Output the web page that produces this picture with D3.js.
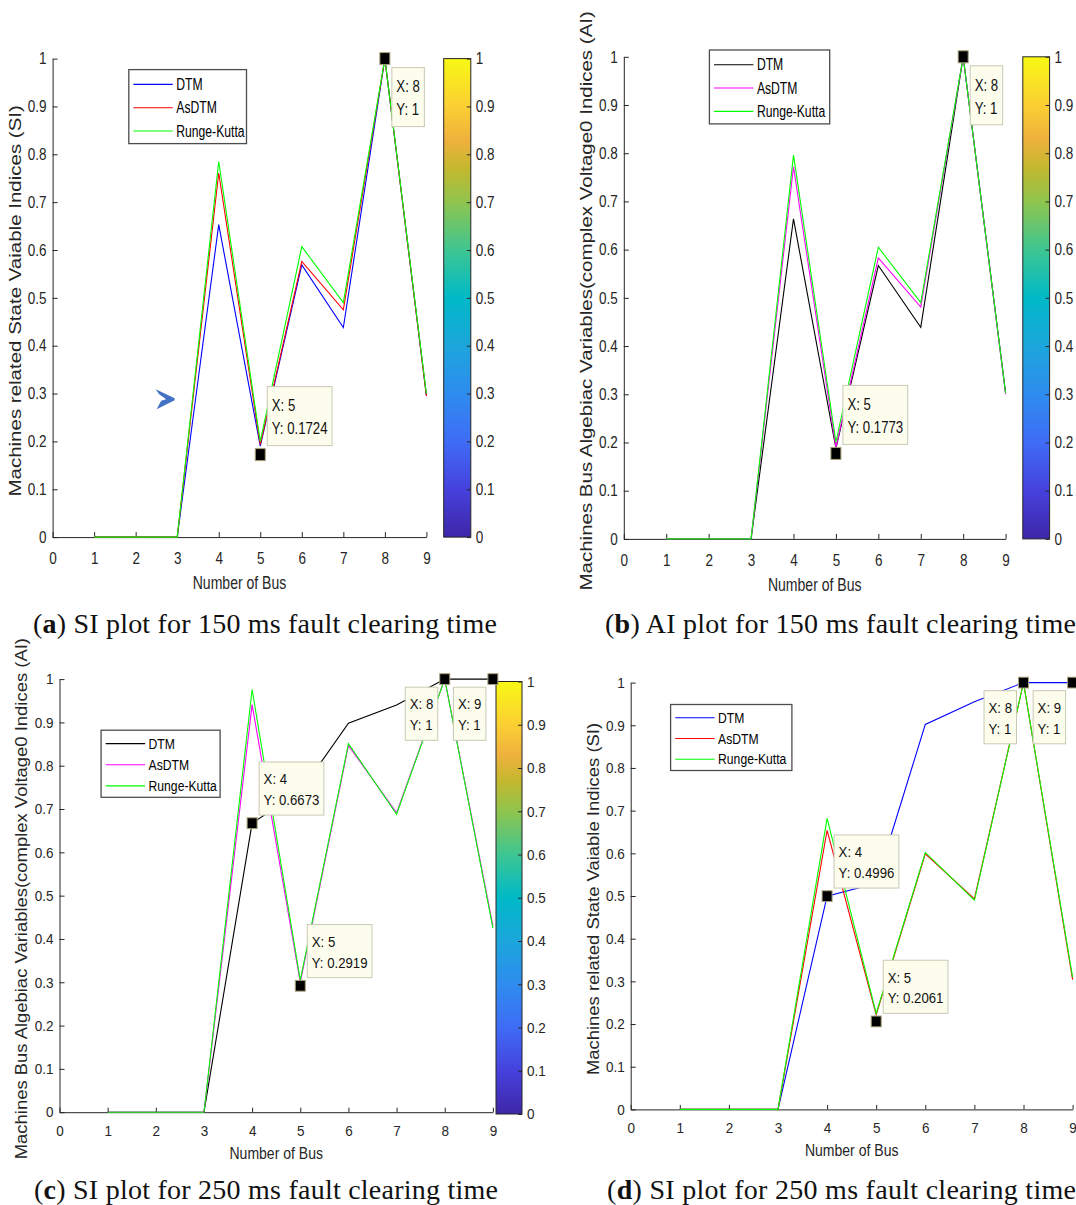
<!DOCTYPE html>
<html>
<head>
<meta charset="utf-8">
<script src="https://cdn.jsdelivr.net/npm/d3@7"></script>
<style>
  body { margin: 0; background: #fff; }
  svg text { font-family: "Liberation Sans", Arial, sans-serif; }
</style>
</head>
<body>
<div id="chart"></div>
<script>
// bus numbers and tick values
var buses = [1, 2, 3, 4, 5, 6, 7, 8, 9];
var xTicks = [0, 1, 2, 3, 4, 5, 6, 7, 8, 9];
var yTicks = [0, 0.1, 0.2, 0.3, 0.4, 0.5, 0.6, 0.7, 0.8, 0.9, 1];
var seriesNames = ["DTM", "AsDTM", "Runge-Kutta"];

// (a) SI, 150 ms
var dtmA   = [0, 0, 0, 0.653, 0.19,  0.569, 0.438, 1, 0.296];
var asdtmA = [0, 0, 0, 0.761, 0.193, 0.576, 0.475, 1, 0.295];
var rkA    = [0, 0, 0, 0.785, 0.2,   0.607, 0.49,  1, 0.3];
var tipsA  = [[8, 1], [5, 0.1724]];
var arrowA = [2.71, 0.288];

// (b) AI, 150 ms
var dtmB   = [0, 0, 0, 0.664, 0.188, 0.567, 0.439, 1, 0.303];
var asdtmB = [0, 0, 0, 0.772, 0.19,  0.583, 0.481, 1, 0.3];
var rkB    = [0, 0, 0, 0.796, 0.201, 0.605, 0.49,  1, 0.302];
var tipsB  = [[8, 1], [5, 0.1773]];

// (c) AI, 250 ms
var dtmC   = [0, 0, 0, 0.6673, 0.74, 0.898, 0.94,  1, 1];
var asdtmC = [0, 0, 0, 0.941,  0.3,  0.847, 0.691, 1, 0.43];
var rkC    = [0, 0, 0, 0.976,  0.305, 0.851, 0.688, 1, 0.425];
var tipsC  = [[4, 0.6673], [5, 0.2919], [8, 1], [9, 1]];

// (d) SI, 250 ms
var dtmD   = [0, 0, 0, 0.4996, 0.53,  0.902, 0.955, 1, 1];
var asdtmD = [0, 0, 0, 0.654,  0.222, 0.599, 0.493, 1, 0.304];
var rkD    = [0, 0, 0, 0.682,  0.225, 0.602, 0.49,  1, 0.31];
var tipsD  = [[4, 0.4996], [5, 0.2061], [8, 1], [9, 1]];

var ylabelSI = "Machines related State Vaiable Indices (SI)";
var ylabelAI = "Machines Bus Algebiac Variables(complex Voltage0 Indices (AI)";
var xlabel = "Number of Bus";

var parulaStops = [[0, "#3e26a8"], [0.1, "#4641dd"], [0.2, "#3f6cf6"], [0.3, "#2e8cee"],
  [0.4, "#1ca6dc"], [0.5, "#00b9c7"], [0.6, "#3ec692"], [0.7, "#8fc44d"],
  [0.77, "#c4b82f"], [0.83, "#efb13c"], [0.9, "#fbcf33"], [1, "#f8f814"]];

var panels = [
  {left: 52.6, right: 426.4, top: 58.6, bottom: 537.1, s: 1,
   series: [dtmA, asdtmA, rkA], colors: ["#0000ff", "#ff0000", "#00ff00"],
   tips: tipsA, tipPlace: ["lr", "ur"], ylabel: ylabelSI, ylabelX: 15.6,
   legend: {x: 128.8, y: 69.6, w: 117.7, h: 74},
   colorbar: {x: 443.7, w: 27.1, top: 58.6, bottom: 537.1},
   letter: "a", caption: ") SI plot for 150 ms fault clearing time", capBox: [33, 497], capY: 632.7,
   arrow: arrowA},
  {left: 623.8, right: 1005.6, top: 56.8, bottom: 538.9, s: 1,
   series: [dtmB, asdtmB, rkB], colors: ["#000000", "#ff00ff", "#00ff00"],
   tips: tipsB, tipPlace: ["lr", "ur"], ylabel: ylabelAI, ylabelX: 586.4,
   legend: {x: 709.4, y: 50, w: 120.3, h: 73.9},
   colorbar: {x: 1022.8, w: 26.8, top: 56.8, bottom: 538.9},
   letter: "b", caption: ") AI plot for 150 ms fault clearing time", capBox: [605, 1076], capY: 632.7},
  {left: 59.5, right: 492.9, top: 679.1, bottom: 1112.2, s: 0.9,
   series: [dtmC, asdtmC, rkC], colors: ["#000000", "#ff00ff", "#00ff00"],
   tips: tipsC, tipPlace: ["ur", "ur", "ll", "ll"], ylabel: ylabelAI, ylabelX: 21.5,
   legend: {x: 101.1, y: 730.2, w: 119, h: 67.1},
   colorbar: {x: 496, w: 26, top: 681.5, bottom: 1114},
   letter: "c", caption: ") SI plot for 250 ms fault clearing time", capBox: [34, 498], capY: 1198.8},
  {left: 630.7, right: 1072.6, top: 682.6, bottom: 1109.4, s: 0.9,
   series: [dtmD, asdtmD, rkD], colors: ["#0000ff", "#ff0000", "#00ff00"],
   tips: tipsD, tipPlace: ["ur", "ur", "ll", "ll"], ylabel: ylabelSI, ylabelX: 593.3,
   legend: {x: 670.6, y: 704.5, w: 121.3, h: 66},
   letter: "d", caption: ") SI plot for 250 ms fault clearing time", capBox: [607, 1076], capY: 1198.8}
];

var ink = "#262626";

var svg = d3.select("#chart").append("svg")
    .attr("width", 1076)
    .attr("height", 1205);
svg.append("rect").attr("width", 1076).attr("height", 1205).attr("fill", "#fff");

var grad = svg.append("defs").append("linearGradient")
    .attr("id", "parula")
    .attr("x1", 0).attr("y1", 1).attr("x2", 0).attr("y2", 0);
parulaStops.forEach(function(st) {
  grad.append("stop").attr("offset", st[0]).attr("stop-color", st[1]);
});

// the figure is horizontally squeezed, so squeeze the text too
function squeeze(sel, k, origin, axis) {
  sel.style("transform-box", "fill-box")
     .style("transform-origin", origin)
     .style("transform", (axis || "scaleX") + "(" + k + ")");
}

function styleAxis(a, fs, k, origin) {
  a.attr("font-family", null).attr("font-size", null);
  a.select(".domain").attr("stroke", ink);
  a.selectAll(".tick line").attr("stroke", ink);
  var t = a.selectAll(".tick text").attr("fill", ink).style("font-size", fs + "px");
  squeeze(t, k, origin);
}

function drawPanel(p) {
  var s = p.s;
  var g = svg.append("g");
  var x = d3.scaleLinear().domain([0, 9]).range([p.left, p.right]);
  var y = d3.scaleLinear().domain([0, 1]).range([p.bottom, p.top]);
  var tickFs = 16.5 * s, tickK = 0.82 / s;

  // colorbar
  if (p.colorbar) {
    var cb = p.colorbar;
    var yc = d3.scaleLinear().domain([0, 1]).range([cb.bottom, cb.top]);
    g.append("rect")
      .attr("x", cb.x).attr("y", cb.top)
      .attr("width", cb.w).attr("height", cb.bottom - cb.top)
      .attr("fill", "url(#parula)")
      .attr("stroke", ink).attr("stroke-width", 1);
    var cax = g.append("g")
      .attr("transform", "translate(" + (cb.x + cb.w) + ",0)")
      .call(d3.axisRight(yc).tickValues(yTicks).tickFormat(d3.format("~g"))
        .tickSizeInner(-4).tickSizeOuter(0).tickPadding(5));
    styleAxis(cax, tickFs, tickK, "left center");
    cax.select(".domain").remove();
  }

  // axes (box off, ticks inside)
  var xa = g.append("g")
    .attr("transform", "translate(0," + p.bottom + ")")
    .call(d3.axisBottom(x).tickValues(xTicks).tickFormat(d3.format("d"))
      .tickSizeInner(-5 * s).tickSizeOuter(0).tickPadding(15 * s));
  styleAxis(xa, tickFs, tickK, "center");
  var ya = g.append("g")
    .attr("transform", "translate(" + p.left + ",0)")
    .call(d3.axisLeft(y).tickValues(yTicks).tickFormat(d3.format("~g"))
      .tickSizeInner(-5).tickSizeOuter(0).tickPadding(6));
  styleAxis(ya, tickFs, tickK, "right center");

  // axis labels
  var xl = g.append("text")
    .attr("x", (p.left + p.right) / 2)
    .attr("y", p.bottom + 46 * s)
    .attr("dy", "0.35em")
    .attr("text-anchor", "middle")
    .attr("fill", ink)
    .style("font-size", 18 * s + "px")
    .text(xlabel);
  squeeze(xl, 0.78 / s, "center");

  var yl = g.append("g")
    .attr("transform", "translate(" + p.ylabelX + "," + ((p.top + p.bottom) / 2 + 3) + ") rotate(-90)")
    .append("text")
    .attr("dy", "0.35em")
    .attr("text-anchor", "middle")
    .attr("fill", ink)
    .style("font-size", 20.5 * s + "px")
    .text(p.ylabel);
  squeeze(yl, 0.78 / s, "center", "scaleY");

  // series
  var line = d3.line()
    .x(function(d, i) { return x(buses[i]); })
    .y(function(d) { return y(d); });
  p.series.forEach(function(vals, i) {
    g.append("path")
      .attr("d", line(vals))
      .attr("fill", "none")
      .attr("stroke", p.colors[i])
      .attr("stroke-width", 1.1);
  });

  // blue arrow annotation
  if (p.arrow) {
    g.append("path")
      .attr("transform", "translate(" + x(p.arrow[0]) + "," + y(p.arrow[1]) + ")")
      .attr("d", "M-9.5,-10 L9.5,-1 L9.5,1 L-8.5,10 L-4,1.5 L1,0 L-6,-5 Z")
      .attr("fill", "#4472c4");
  }

  // legend
  var lg = p.legend;
  var leg = g.append("g");
  leg.append("rect")
    .attr("x", lg.x).attr("y", lg.y)
    .attr("width", lg.w).attr("height", lg.h)
    .attr("fill", "#fff").attr("stroke", "#4d4d4d").attr("stroke-width", 1.3);
  seriesNames.forEach(function(name, i) {
    var ry = lg.y + lg.h * (0.2 + 0.315 * i);
    leg.append("line")
      .attr("x1", lg.x + 4.6).attr("x2", lg.x + 44)
      .attr("y1", ry).attr("y2", ry)
      .attr("stroke", p.colors[i]).attr("stroke-width", 1.1);
    var t = leg.append("text")
      .attr("x", lg.x + 47.5).attr("y", ry)
      .attr("dy", "0.35em")
      .attr("fill", "#000")
      .style("font-size", 16 * s + "px")
      .text(name);
    squeeze(t, 0.76 / s, "left center");
  });

  // data tips
  p.tips.forEach(function(tp, i) {
    var mx = x(tp[0]), my = y(tp[1]);
    var tg = g.append("g");
    var box = tg.append("rect")
      .attr("fill", "#fdfdee").attr("stroke", "#c9c9b4").attr("stroke-width", 1);
    var k = 0.8 / s;
    var lines = ["X: " + tp[0], "Y: " + tp[1]];
    var texts = lines.map(function(str) {
      return tg.append("text")
        .attr("fill", "#111")
        .style("font-size", 16.5 * s + "px")
        .attr("dy", "0.35em")
        .text(str);
    });
    var w = d3.max(texts, function(t) { return t.node().getComputedTextLength(); }) * k + 9;
    var h = 59 * s;
    var place = p.tipPlace[i];
    var bx = place === "ll" ? mx - 7 - w : mx + 7;
    var by = place === "ur" ? my - 9 * s - h : my + 9 * s;
    box.attr("x", bx).attr("y", by).attr("width", w).attr("height", h);
    texts.forEach(function(t, j) {
      t.attr("x", bx + 4.5).attr("y", by + (j === 0 ? 19 : 42) * s);
      squeeze(t, k, "left center");
    });
    g.append("rect")
      .attr("x", mx - 5).attr("y", my - 6 * s)
      .attr("width", 10).attr("height", 12 * s)
      .attr("fill", "#000").attr("stroke", "#a8a27c").attr("stroke-width", 1);
  });

  // caption, sized to span the same width as the original
  var cap = svg.append("text")
    .attr("x", p.capBox[0]).attr("y", p.capY)
    .attr("fill", "#111")
    .style("font-family", "'Liberation Serif', 'DejaVu Serif', serif")
    .style("font-size", "26px");
  cap.append("tspan").text("(");
  cap.append("tspan").attr("font-weight", "bold").text(p.letter);
  cap.append("tspan").text(p.caption);
  var cw = cap.node().getComputedTextLength();
  var fs = Math.min(28, 26 * (p.capBox[1] - p.capBox[0]) / cw);
  cap.style("font-size", fs + "px");
  cw = cap.node().getComputedTextLength();
  var n = p.caption.length + 2;
  cap.style("letter-spacing", ((p.capBox[1] - p.capBox[0] - cw) / (n - 1)) + "px");
}

panels.forEach(drawPanel);
</script>
</body>
</html>
